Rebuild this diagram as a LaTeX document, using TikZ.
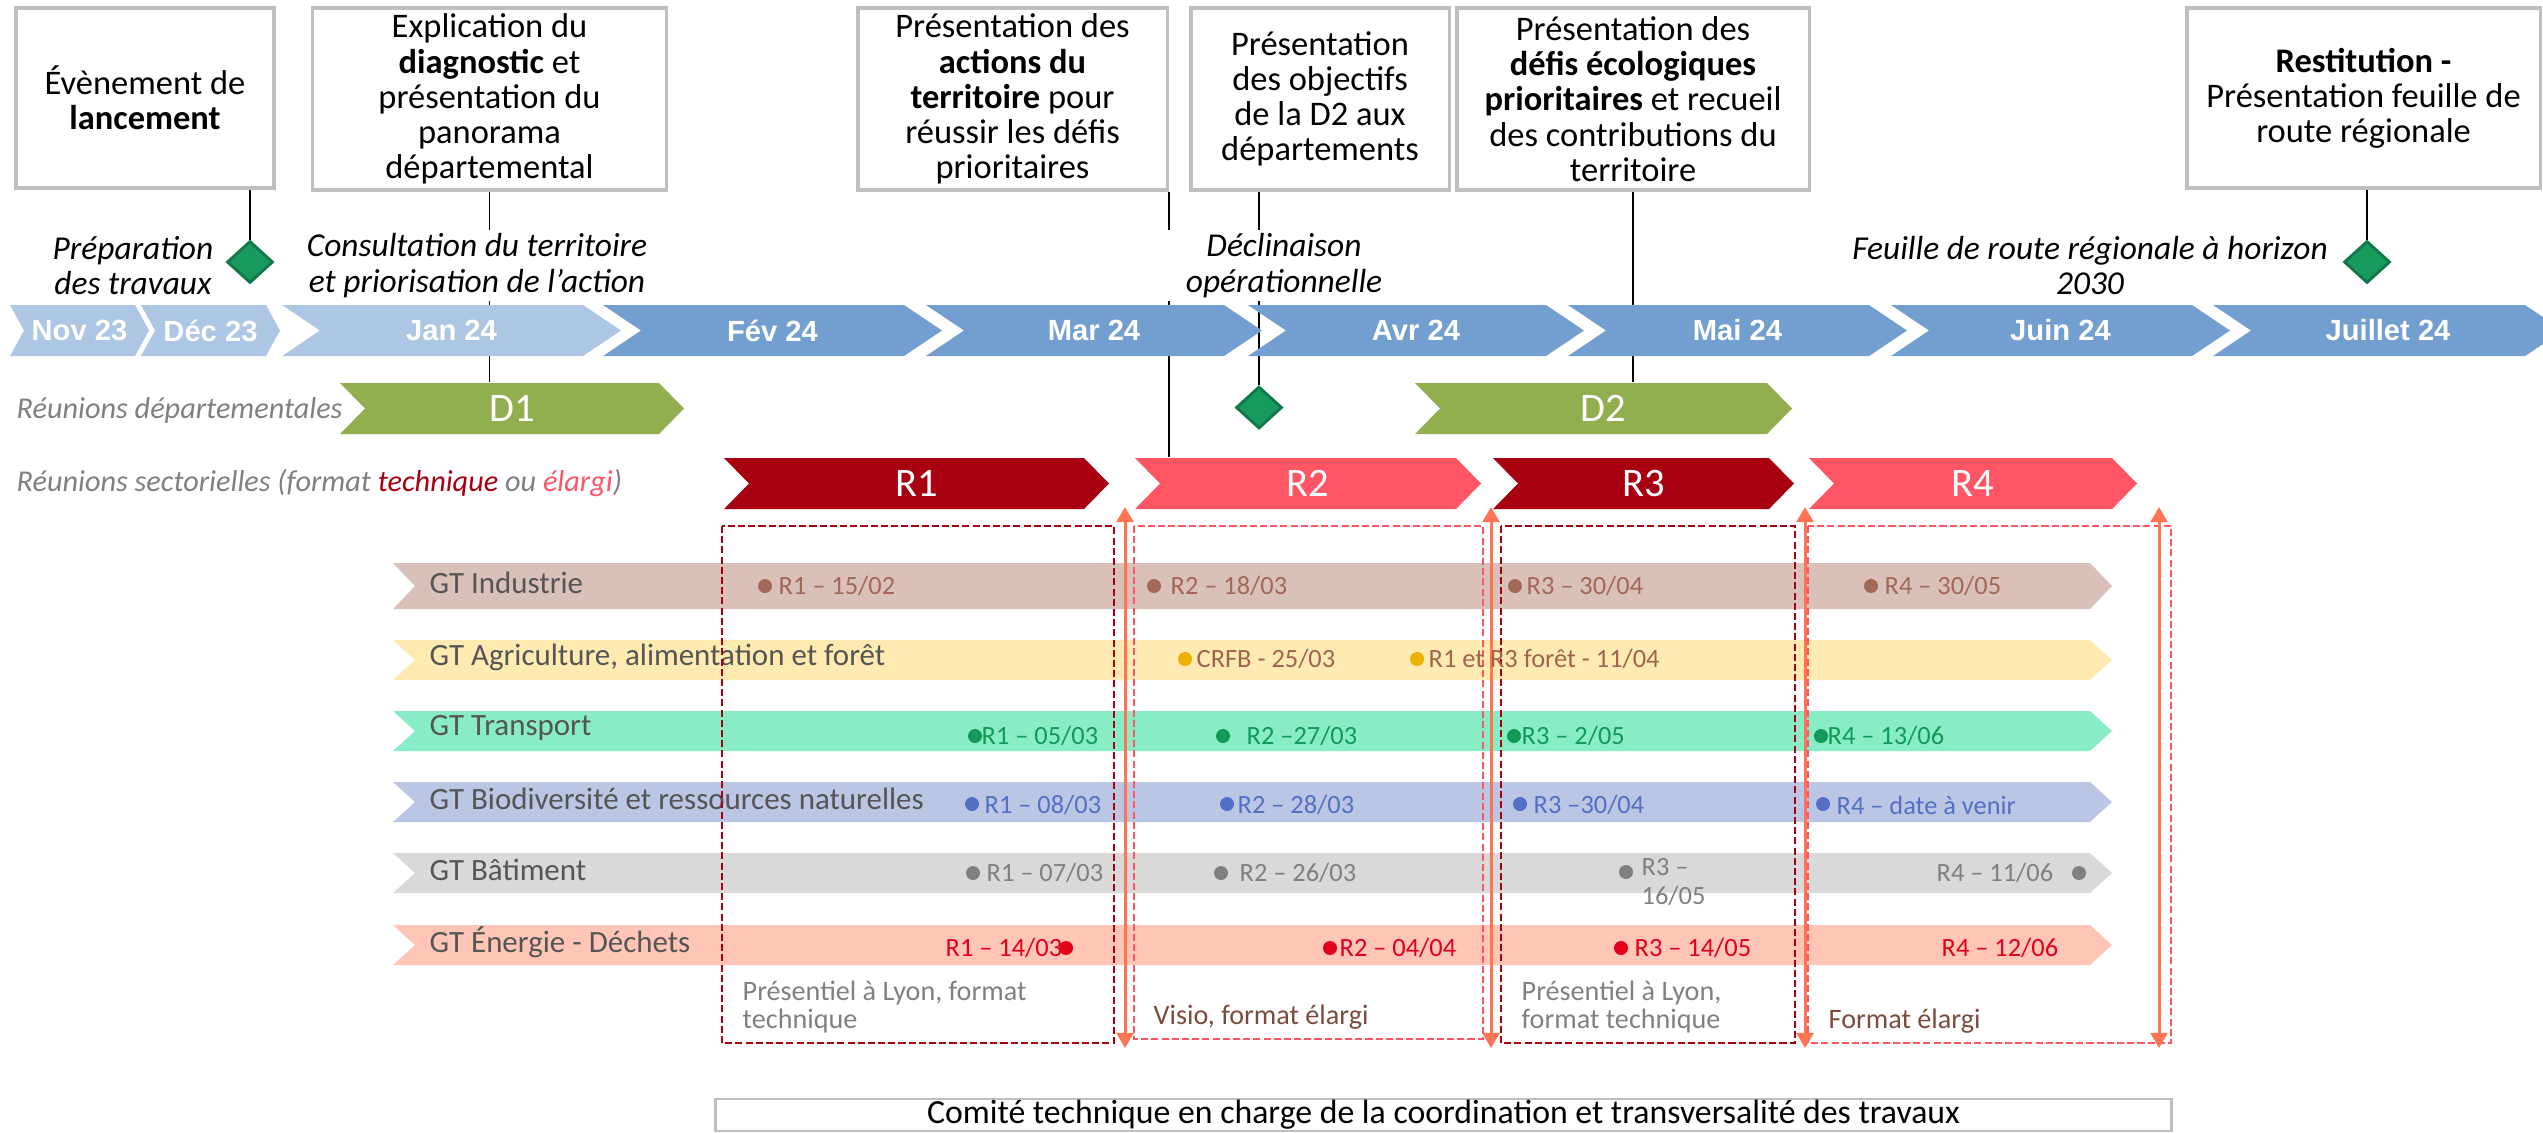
\documentclass[tikz,border=0pt]{standalone}
\usepackage{fontspec}
\setmainfont{Carlito}
\newfontfamily\moisfont{Liberation Sans}
\usetikzlibrary{arrows.meta,shapes.geometric,backgrounds}

\definecolor{bordgris}{RGB}{191,191,191}
\definecolor{moisclair}{RGB}{172,198,228}
\definecolor{moisfonce}{RGB}{114,159,207}
\definecolor{vertD}{RGB}{146,175,79}
\definecolor{rougeT}{RGB}{168,0,16}
\definecolor{rougeE}{RGB}{255,85,100}
\definecolor{vertlos}{RGB}{24,154,94}
\definecolor{vertlosbord}{RGB}{16,120,72}
\definecolor{orangefl}{RGB}{255,116,84}
\definecolor{gristxt}{RGB}{128,128,128}
\definecolor{gtgris}{RGB}{85,85,85}
\definecolor{indfond}{RGB}{217,193,186}
\definecolor{indtxt}{RGB}{163,104,88}
\definecolor{agrifond}{RGB}{255,235,178}
\definecolor{agripoint}{RGB}{237,178,0}
\definecolor{agritxt}{RGB}{160,100,78}
\definecolor{trfond}{RGB}{136,237,196}
\definecolor{trtxt}{RGB}{18,153,90}
\definecolor{biofond}{RGB}{187,198,228}
\definecolor{biotxt}{RGB}{84,112,196}
\definecolor{batfond}{RGB}{217,217,217}
\definecolor{battxt}{RGB}{128,128,128}
\definecolor{enfond}{RGB}{255,197,182}
\definecolor{entxt}{RGB}{226,0,26}
\definecolor{brun}{RGB}{123,75,62}

\begin{document}
\begin{tikzpicture}[
    x=0.01cm, y=-0.01cm,
    boite/.style={draw=bordgris, line width=0.9pt, fill=white, align=center, inner sep=0pt, font=\fontsize{9.8}{10}\selectfont},
    jalon/.style={align=center, fill=white, inner sep=1pt, font=\itshape\fontsize{9.5}{10}\selectfont},
    mois/.style={text=white, font=\moisfont\bfseries\fontsize{8.3}{9}\selectfont},
    reunion/.style={text=white, minimum height=0.51cm, inner sep=0pt, font=\fontsize{11.5}{12}\selectfont},
    losange/.style={diamond, draw=vertlosbord, fill=vertlos, line width=0.8pt, minimum width=0.46cm, minimum height=0.42cm, inner sep=0pt},
    trait/.style={line width=0.5pt},
    gt/.style={anchor=west, inner sep=0pt, text=gtgris, font=\fontsize{8.8}{9}\selectfont},
    jour/.style={anchor=west, inner sep=0pt, font=\fontsize{7.5}{8}\selectfont},
    annot/.style={anchor=west, inner sep=0pt, align=left, font=\fontsize{8}{8}\selectfont},
    zone/.style={dash pattern=on 2pt off 0.9pt, line width=0.5pt},
    fleche/.style={draw=orangefl, line width=0.85pt, {Triangle[width=4.8pt,length=4.3pt]}-{Triangle[width=4.8pt,length=4.3pt]}},
    legende/.style={anchor=west, inner sep=0pt, text=gristxt, font=\itshape\fontsize{8.6}{9}\selectfont}
  ]
    \useasboundingbox (0,0) rectangle (2543,1132);
    \clip (0,0) rectangle (2543,1132);

    \node[boite, minimum width=2.58cm, minimum height=1.80cm] (lancement) at (145,98) {Évènement de\\\textbf{lancement}};
    \node[boite, minimum width=3.53cm, minimum height=1.82cm] (diagnostic) at (489.5,99) {Explication du\\\textbf{diagnostic} et\\présentation du\\panorama\\départemental};
    \node[boite, minimum width=3.09cm, minimum height=1.82cm] (actions) at (1012.5,99) {Présentation des\\\textbf{actions du}\\\textbf{territoire} pour\\réussir les défis\\prioritaires};
    \node[boite, minimum width=2.58cm, minimum height=1.82cm] (objectifs) at (1320,99) {Présentation\\des objectifs\\de la D2 aux\\départements};
    \node[boite, minimum width=3.52cm, minimum height=1.82cm] (defis) at (1633,99) {Présentation des\\\textbf{défis écologiques}\\\textbf{prioritaires} et recueil\\des contributions du\\territoire};
    \node[boite, minimum width=3.53cm, minimum height=1.80cm] (restitution) at (2363.5,98) {\textbf{Restitution -}\\Présentation feuille de\\route régionale};

    \node[jalon] (preparation) at (133,265.5) {Préparation\\des travaux};
    \node[jalon, minimum width=3.7cm] (consultation) at (477,265.5) {Consultation du territoire\\et priorisation de l’action};
    \node[jalon, minimum width=2.7cm] (operation) at (1284,265.5) {Déclinaison\\opérationnelle};
    \node[jalon] (horizon) at (2090,265.5) {Feuille de route régionale à horizon\\2030};

    \foreach \xl/\xr/\d/\fond/\lab [count=\i] in {10/135/14/moisclair/Nov 23, 141/266/14/moisclair/Déc 23, 282/583/38/moisclair/Jan 24, 603/904/38/moisfonce/Fév 24, 926/1224/38/moisfonce/Mar 24, 1248/1546/38/moisfonce/Avr 24, 1568/1869/38/moisfonce/Mai 24, 1891/2192/38/moisfonce/Juin 24, 2213/2525/38/moisfonce/Juillet 24}{
      \fill[\fond] (\xl,305) -- (\xr,305) -- (\xr+\d,330.5) -- (\xr,356) -- (\xl,356) -- (\xl+\d,330.5) -- cycle;
      \node[mois] (mois\i) at ({(\xl+\xr+\d)/2},330.5) {\lab};
    }

    \foreach \xl/\xr/\yh/\fond/\lab in {340/659/383/vertD/D1, 1415/1767/383/vertD/D2, 724/1084/458/rougeT/R1, 1135/1456/458/rougeE/R2, 1493/1769/458/rougeT/R3, 1809/2112/458/rougeE/R4}{
      \fill[\fond] (\xl,\yh) -- (\xr,\yh) -- (\xr+25,\yh+25.5) -- (\xr,\yh+51) -- (\xl,\yh+51) -- (\xl+25,\yh+25.5) -- cycle;
      \node[reunion] (\lab) at ({(\xl+\xr+25)/2},\yh+25.5) {\lab};
    }

    \node[losange] (depart) at (250,262) {};
    \node[losange] (declinaison) at (1259,407.5) {};
    \node[losange] (feuille) at (2367,262) {};

    \node[legende] (departementales) at (16,410) {Réunions départementales};
    \node[legende] (sectorielles) at (16,483) {Réunions sectorielles (format \textcolor{rougeT}{technique} ou \textcolor{rougeE}{élargi})};

    \foreach \yh/\yb/\fond/\lab [count=\i] in {563/609/indfond/GT Industrie, 640/680/agrifond/{GT Agriculture, alimentation et forêt}, 711/751/trfond/GT Transport, 782/822/biofond/GT Biodiversité et ressources naturelles, 853/893/batfond/GT Bâtiment, 925/965/enfond/GT Énergie - Déchets}{
      \fill[\fond] (393,\yh) -- (2090,\yh) -- (2112,{(\yh+\yb)/2}) -- (2090,\yb) -- (393,\yb) -- (415,{(\yh+\yb)/2}) -- cycle;
      \node[gt] (gt\i) at (429,{(\yh+\yb)/2-3}) {\lab};
    }

    \draw[zone, rougeT] (722,526) rectangle (1114,1043);
    \draw[zone, rougeE] (1134,526) rectangle (1483,1039);
    \draw[zone, rougeT] (1501,526) rectangle (1795,1043);
    \draw[zone, rougeE] (1808,526) rectangle (2171,1043);

    \foreach \x [count=\i] in {1125,1491,1805,2159}{
      \coordinate (haut\i) at (\x,507);
      \coordinate (bas\i) at (\x,1048);
      \draw[fleche] (haut\i) -- (bas\i);
    }

    \foreach \x/\y/\coul in {765/586/indtxt, 1154/586/indtxt, 1515/586/indtxt, 1871/586/indtxt, 1185/659/agripoint, 1417/659/agripoint, 975/736/trtxt, 1223/736/trtxt, 1514/736/trtxt, 1821/736/trtxt, 972/804/biotxt, 1227/804/biotxt, 1520/804/biotxt, 1823/804/biotxt, 973/873/battxt, 1221/873/battxt, 1626/872/battxt, 2079/873/battxt, 1066/948/entxt, 1330/948/entxt, 1621/948/entxt}{
      \fill[\coul] (\x,\y) circle[radius=0.07cm];
    }

    \foreach \x/\y/\txt/\coul [count=\i] in {778/586/{R1 – 15/02}/indtxt, 1170/586/{R2 – 18/03}/indtxt, 1526/586/{R3 – 30/04}/indtxt, 1884/586/{R4 – 30/05}/indtxt, 1196/659/{CRFB - 25/03}/agritxt, 1428/659/{R1 et R3 forêt - 11/04}/agritxt, 981/736/{R1 – 05/03}/trtxt, 1246/736/{R2 –27/03}/trtxt, 1521/736/{R3 – 2/05}/trtxt, 1827/736/{R4 – 13/06}/trtxt, 984/805/{R1 – 08/03}/biotxt, 1237/805/{R2 – 28/03}/biotxt, 1533/805/{R3 –30/04}/biotxt, 1836/805/{R4 – date à venir}/biotxt, 986/873/{R1 – 07/03}/battxt, 1239/873/{R2 – 26/03}/battxt, 1936/873/{R4 – 11/06}/battxt, 945/948/{R1 – 14/03}/entxt, 1339/948/{R2 – 04/04}/entxt, 1634/948/{R3 – 14/05}/entxt, 1941/948/{R4 – 12/06}/entxt}{
      \node[jour, text=\coul] (date\i) at (\x,\y) {\txt};
    }
    \node[jour, align=left, text=battxt] (batr3) at (1641,882) {R3 –\\16/05};

    \node[annot, text=gristxt] (lyon1) at (742,1007) {Présentiel à Lyon, format\\technique};
    \node[annot, text=brun] (visio) at (1153,1017) {Visio, format élargi};
    \node[annot, text=gristxt] (lyon2) at (1521,1007) {Présentiel à Lyon,\\format technique};
    \node[annot, text=brun] (elargi) at (1828,1021) {Format élargi};

    \node[draw=bordgris, line width=0.8pt, minimum width=14.55cm, minimum height=0.32cm, inner sep=0pt, font=\fontsize{9.6}{10}\selectfont] (comite) at (1443.5,1115) {Comité technique en charge de la coordination et transversalité des travaux};

    \begin{scope}[on background layer]
      \draw[trait] (lancement.south -| depart) -- (depart.north);
      \draw[trait] (diagnostic.south) -- (diagnostic.south |- D1.north);
      \draw[trait] (actions.south east) -- (actions.south east |- R2.north);
      \draw[trait] (objectifs.south -| declinaison) -- (declinaison.north);
      \draw[trait] (defis.south) -- (defis.south |- D2.north);
      \draw[trait] (restitution.south -| feuille) -- (feuille.north);
    \end{scope}
  \end{tikzpicture}
\end{document}
